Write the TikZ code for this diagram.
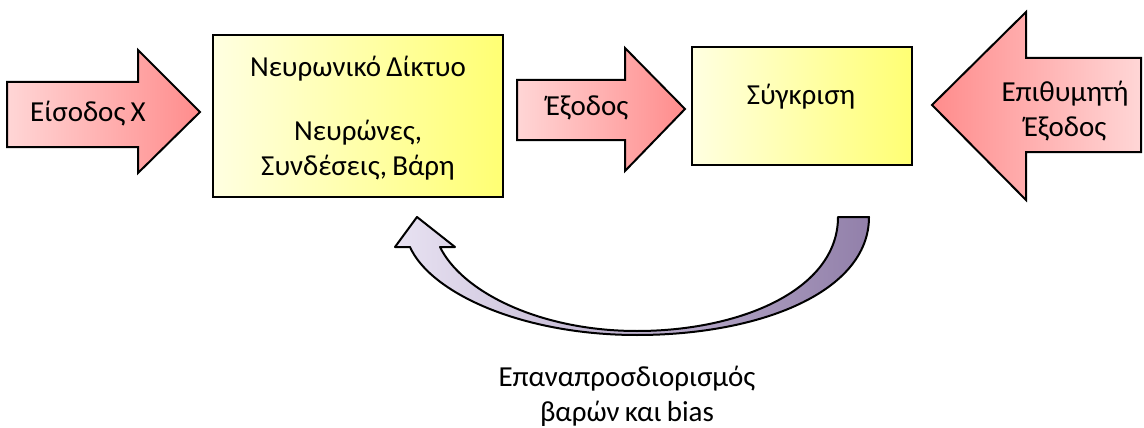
\documentclass[tikz,border=0pt]{standalone}
\usepackage{fontspec}
\setmainfont{Carlito}[WordSpace=0.8]
\definecolor{pinkL}{RGB}{255,214,214}
\definecolor{pinkD}{RGB}{255,140,140}
\definecolor{yelL}{RGB}{255,255,225}
\definecolor{yelD}{RGB}{255,255,115}
\definecolor{lavL}{RGB}{232,226,242}
\definecolor{lavD}{RGB}{146,128,170}
\tikzset{
  blockarrow/.style={draw=black, line width=2pt, line join=miter},
  yelbox/.style={draw=black, line width=2.2pt, left color=yelL, right color=yelD, inner sep=0pt},
  lbl/.style={font=\fontsize{29}{35}\selectfont, align=center, inner sep=0pt}
}
\begin{document}
\begin{tikzpicture}[x=1pt,y=-1pt]
\useasboundingbox (0,0) rectangle (1144,428);
% input arrow
\draw[blockarrow, left color=pinkL, right color=pinkD]
  (7,82) -- (138,82) -- (138,50) -- (200,112) -- (138,173) -- (138,147) -- (7,147) -- cycle;
\node[lbl] (inp) at (88,114) {Είσοδος X};
% neural network box
\node[yelbox, minimum width=290pt, minimum height=162pt] (nn) at (358,116) {};
\node[lbl] (nnt1) at (358,69) {Νευρωνικό Δίκτυο};
\node[lbl] (nnt2) at (358,150) {Νευρώνες,\\Συνδέσεις, Βάρη};
% output arrow
\draw[blockarrow, left color=pinkL, right color=pinkD]
  (517,80) -- (625,80) -- (625,48) -- (685,109) -- (625,171) -- (625,140) -- (517,140) -- cycle;
\node[lbl] (out) at (587,108) {Έξοδος};
% comparison box
\node[yelbox, minimum width=220pt, minimum height=118pt] (cmp) at (802,106) {};
\node[lbl] (cmpt) at (801,97) {Σύγκριση};
% desired output arrow
\draw[blockarrow, left color=pinkD, right color=pinkL]
  (1141,58) -- (1026,58) -- (1026,12) -- (932,105) -- (1026,200) -- (1026,152) -- (1141,152) -- cycle;
\node[lbl] (des) at (1065,111) {Επιθυμητή\\Έξοδος};
% curved feedback arrow
\draw[blockarrow, line join=round, left color=lavL, right color=lavD]
  (869,217) -- (838,217)
  .. controls (838,290) and (740,331) .. (637,331)
  .. controls (540,331) and (462,292) .. (440,247)
  -- (455,247) -- (417,217) -- (395,247) -- (410,247)
  .. controls (430,292) and (520,335) .. (637,335)
  .. controls (760,335) and (869,292) .. (869,217) -- cycle;
\node[lbl] (fb) at (627,396) {Επαναπροσδιορισμός\\βαρών και bias};
\end{tikzpicture}
\end{document}
